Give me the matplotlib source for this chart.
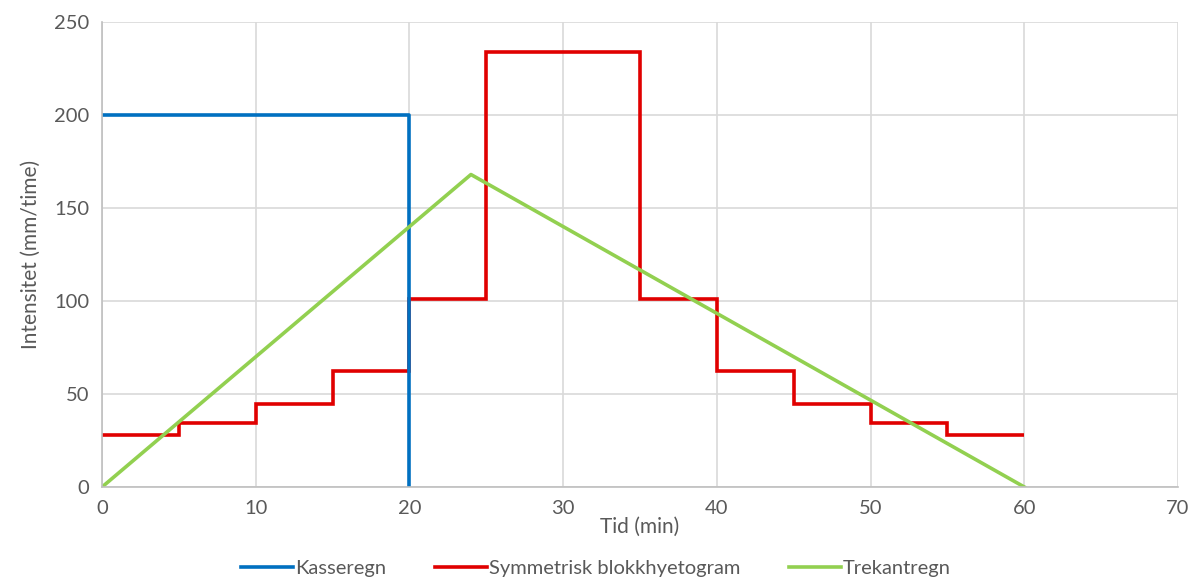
import numpy as np
import matplotlib.pyplot as plt

plt.rcParams['font.family'] = ['Lato', 'DejaVu Sans']

# Kasseregn
kasse_t = [0, 20, 20]
kasse_i = [200, 200, 0]

# Symmetrisk blokkhyetogram (step values per 5 min block)
blokk_t = [0, 5, 10, 15, 20, 25, 30, 35, 40, 45, 50, 55, 60]
blokk_i = [28, 34.5, 44.5, 62.5, 101, 234, 234, 101, 62.5, 44.5, 34.5, 28]

# Trekantregn
trekant_t = [0, 24, 60]
trekant_i = [0, 168, 0]

fig = plt.figure(figsize=(11.92, 5.85), dpi=100)
ax = fig.add_axes([0.0856, 0.1675, 0.9027, 0.7949])

ax.plot(kasse_t, kasse_i, color='#0070C0', lw=2.6, label='Kasseregn')
ax.stairs(blokk_i, blokk_t, color='#E00000', lw=2.6, baseline=None,
          label='Symmetrisk blokkhyetogram')
ax.plot(trekant_t, trekant_i, color='#92D050', lw=2.6, label='Trekantregn')

ax.set_xlim(0, 70)
ax.set_ylim(0, 250)
ax.set_xticks(range(0, 71, 10))
ax.set_yticks(range(0, 251, 50))
ax.grid(True, color='#D9D9D9', lw=1.2)
ax.set_axisbelow(True)
for s in ['top', 'right']:
    ax.spines[s].set_visible(False)
for s in ['left', 'bottom']:
    ax.spines[s].set_color('#BFBFBF')
    ax.spines[s].set_linewidth(1.2)
ax.tick_params(length=0, labelsize=14.5, colors='#595959', pad=9)

ax.set_xlabel('Tid (min)', fontsize=15, color='#595959', labelpad=0)
ax.set_ylabel('Intensitet (mm/time)', fontsize=15, color='#595959', labelpad=10)

handles, labels = ax.get_legend_handles_labels()
fig.legend(handles, labels, loc='lower center', bbox_to_anchor=(0.5, -0.018),
           ncol=3, frameon=False, fontsize=14.5, handlelength=2.6,
           handletextpad=0.1, columnspacing=2.4, labelcolor='#595959')

fig.savefig('out.png', dpi=100)
